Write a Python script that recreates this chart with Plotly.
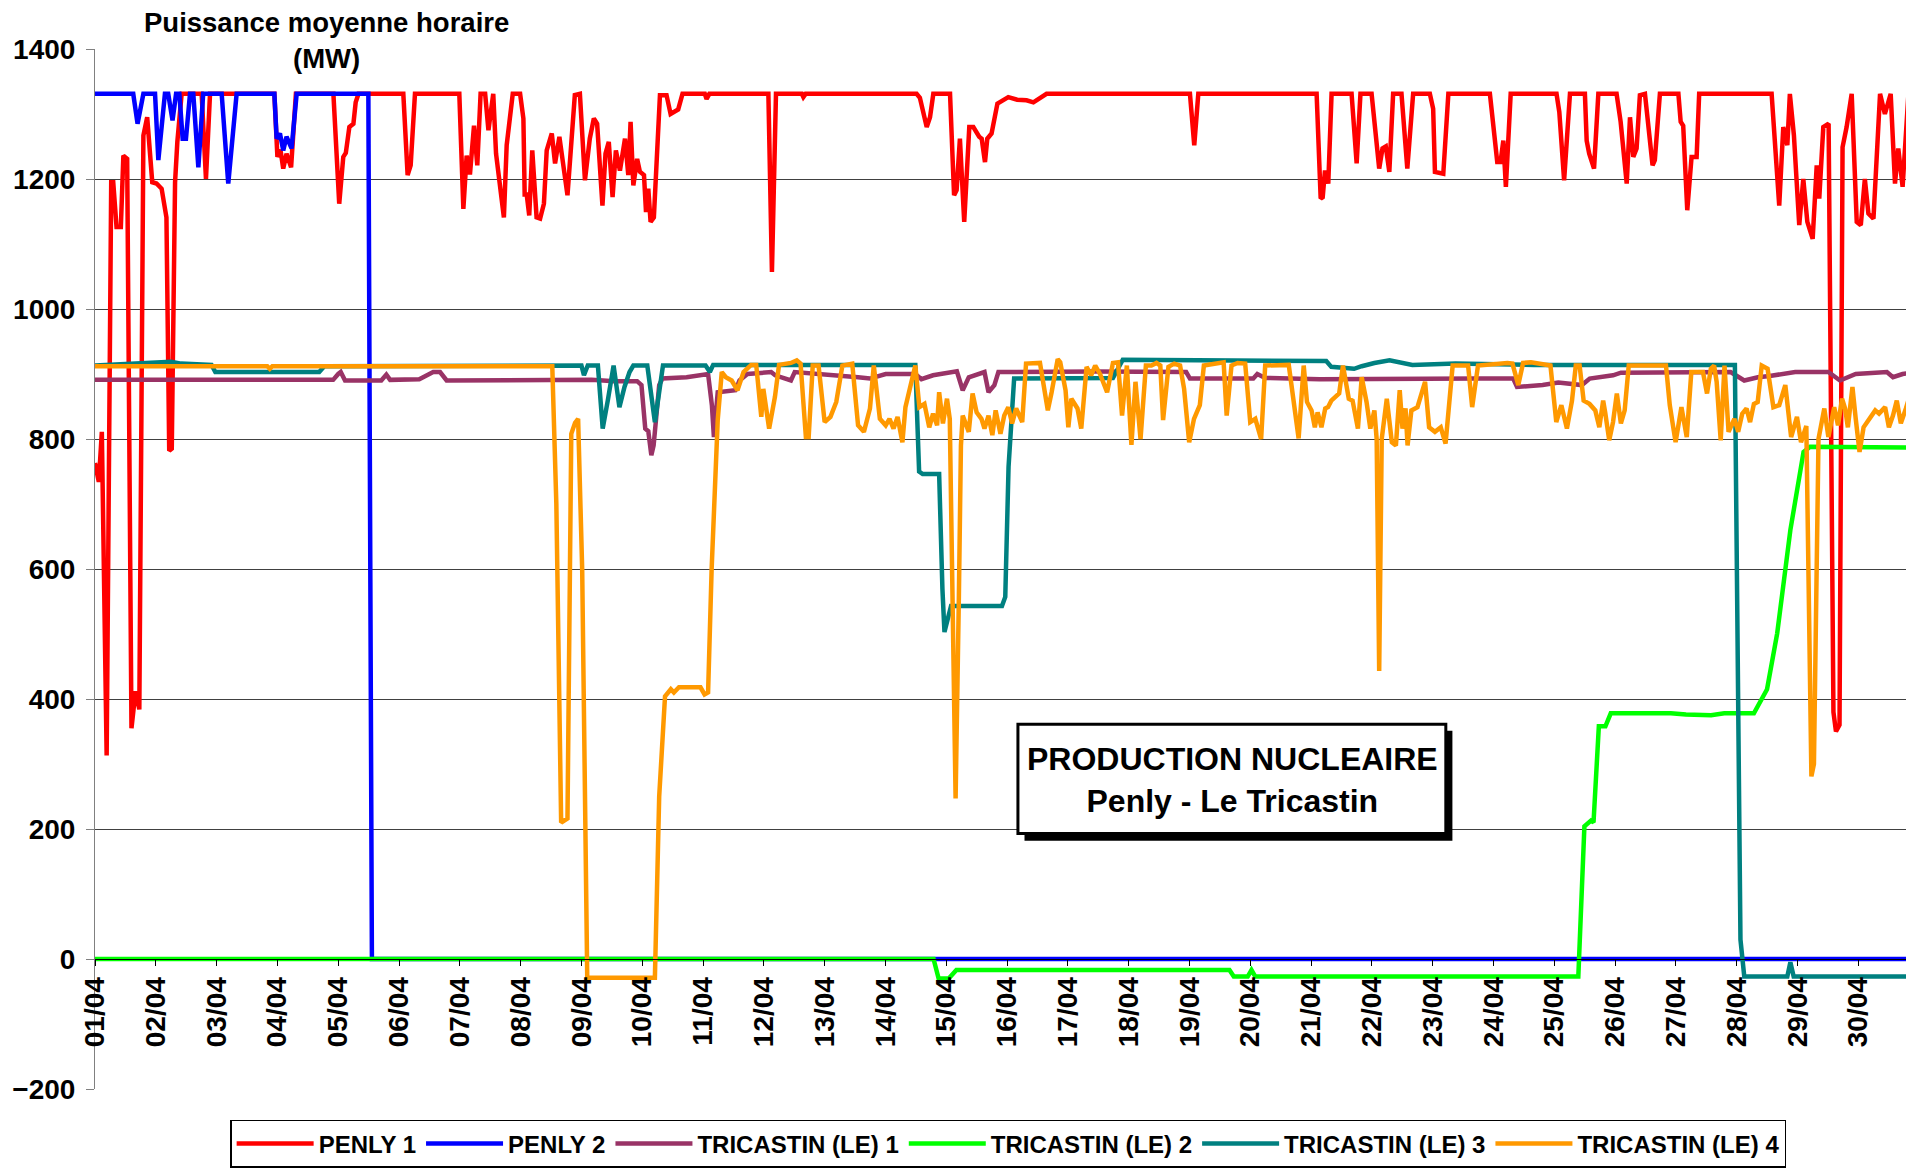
import plotly.graph_objects as go

FONT = 'Liberation Sans, Arial, sans-serif'

# Hourly average power, April. Breakpoints as (hour of month, MW).
PENLY_1 = [
    (0, 763), (1.5, 734), (2.7, 811), (4.6, 313), (6.4, 1195), (7.2, 1195), (8.5, 1126), (10.2, 1126),
    (11.2, 1236), (12.7, 1231), (14.4, 355), (16, 412), (17.5, 384), (19.1, 1267), (20.6, 1295),
    (22.6, 1195), (24.3, 1193), (26.3, 1185), (28.2, 1141), (29.3, 782), (30.3, 785), (31.6, 1195),
    (32.5, 1257), (34.2, 1331), (42.1, 1331), (43.8, 1200), (45.4, 1331), (70.8, 1331), (72, 1234),
    (73.2, 1245), (74.3, 1216), (75.6, 1239), (77.4, 1218), (79.3, 1331), (94.1, 1331), (96.4, 1162),
    (98, 1234), (99, 1240), (100.4, 1280), (102, 1285), (102.9, 1318), (104, 1331), (121.7, 1331),
    (123.4, 1206), (124.6, 1221), (126.3, 1331), (143.8, 1331), (145.4, 1154), (146.7, 1236),
    (148, 1207), (149.6, 1282), (150.9, 1221), (152.2, 1331), (154, 1331), (155.3, 1275),
    (157.2, 1331), (158.3, 1239), (161.4, 1141), (162.5, 1252), (164.9, 1331), (167.8, 1331),
    (169.1, 1293), (169.6, 1176), (170.4, 1176), (171.4, 1144), (172.6, 1244), (174.3, 1141),
    (175.7, 1139), (177.2, 1162), (178.3, 1244), (180.3, 1270), (181.6, 1224), (183.3, 1265),
    (184.9, 1216), (186.5, 1175), (189.4, 1329), (191.4, 1331), (193.4, 1198), (195.3, 1262),
    (196.9, 1293), (198.2, 1285), (200.3, 1159), (201.5, 1239), (202.8, 1257), (204.3, 1172),
    (205.6, 1244), (207.2, 1213), (209.2, 1262), (210.5, 1206), (211.4, 1288), (212.5, 1190),
    (214, 1231), (215.1, 1211), (216.7, 1206), (217.5, 1149), (218.4, 1185), (219.3, 1134),
    (220.6, 1141), (223, 1329), (225.6, 1329), (227.2, 1300), (230.2, 1307), (231.9, 1331),
    (240.7, 1331), (241.4, 1323), (242.5, 1331), (265.8, 1331), (267.2, 1057), (268.8, 1331),
    (279, 1331), (279.6, 1326), (280.5, 1331), (324.3, 1331), (325.6, 1325), (328.3, 1280),
    (329.6, 1295), (330.9, 1331), (337.5, 1331), (339.1, 1175), (340.1, 1183), (341.4, 1262),
    (343.1, 1134), (345.1, 1280), (346.7, 1280), (349, 1265), (350, 1262), (351.3, 1226),
    (352.2, 1262), (353.9, 1270), (356.2, 1316), (358.5, 1321), (360.5, 1326), (364, 1322),
    (367.7, 1321), (370.4, 1318), (373, 1324), (375.6, 1331), (432.2, 1331), (433.9, 1252),
    (435.5, 1331), (482.2, 1331), (483.8, 1170), (484.6, 1172), (485.5, 1213), (486.8, 1193),
    (488.1, 1331), (496, 1331), (498, 1224), (499.5, 1331), (503.9, 1331), (506.9, 1216),
    (508.2, 1247), (509.5, 1250), (510.9, 1211), (512.4, 1331), (515.7, 1331), (518, 1216),
    (520.3, 1331), (526.9, 1331), (528.2, 1308), (528.9, 1211), (532.2, 1208), (534.2, 1331),
    (550.6, 1331), (553.5, 1226), (554.8, 1226), (555.9, 1259), (556.9, 1188), (558.8, 1331),
    (576.9, 1331), (578, 1303), (579.9, 1198), (582.2, 1331), (588.1, 1331), (588.8, 1259),
    (589.8, 1239), (591.7, 1216), (593.4, 1331), (600.6, 1331), (602.2, 1288), (604.6, 1193),
    (605.9, 1295), (607.2, 1234), (608.5, 1247), (609.8, 1329), (611.8, 1331), (614.8, 1221),
    (615.7, 1229), (617.7, 1331), (625, 1331), (625.9, 1288), (626.9, 1282), (628.5, 1152),
    (630.2, 1234), (632.2, 1234), (633.2, 1331), (661.8, 1331), (664.8, 1159), (666.4, 1280),
    (668, 1252), (669, 1331), (670.6, 1267), (672.7, 1129), (674.3, 1200), (675.9, 1134),
    (678, 1108), (679.6, 1221), (680.6, 1170), (682.2, 1280), (684.3, 1285), (686.2, 380),
    (687.2, 350), (688.6, 360), (689.8, 1249), (691.4, 1280), (693.4, 1331), (695.4, 1134),
    (697, 1129), (698.6, 1200), (700, 1147), (702, 1139), (704.6, 1331), (706.5, 1300),
    (708.8, 1331), (710.5, 1193), (711.8, 1247), (713.5, 1188), (715.8, 1331), (717.7, 1211),
    (718.5, 1250),
]

PENLY_2 = [
    (0, 1331), (15.1, 1331), (16.8, 1285), (19.1, 1331), (23.7, 1331), (25, 1229), (27.6, 1331),
    (28.9, 1331), (30.6, 1290), (32, 1331), (33.3, 1331), (34.6, 1262), (35.9, 1262), (37.5, 1331),
    (38.8, 1331), (40.8, 1218), (42.7, 1331), (50, 1331), (52.6, 1193), (55.9, 1331), (70.8, 1331),
    (71.7, 1262), (73, 1270), (74.3, 1244), (75.6, 1265), (77.6, 1247), (79.6, 1331), (107.9, 1331),
    (109.3, 0), (718.5, 0),
]

TRICASTIN_1 = [
    (0, 891), (94, 891), (96, 900), (97, 903), (98.7, 890), (113, 890), (115, 899), (116.5, 891),
    (128, 892), (133.5, 903), (136.2, 903), (138.8, 890), (196, 891), (205, 889), (214, 889),
    (215.7, 883), (217.2, 816), (218.4, 812), (219.6, 775), (220.5, 790), (222.7, 883), (224, 893),
    (233.5, 895), (238.8, 898), (242, 900), (243.5, 852), (244.3, 803), (245.8, 872), (252.8, 875),
    (254.4, 890), (257.5, 900), (266.9, 903), (268.5, 898), (274.7, 890), (276.2, 903), (301.2, 895),
    (305.9, 893), (312.1, 900), (323.8, 900), (326.2, 892), (330.8, 898), (340.2, 904), (342.5, 875),
    (344.9, 895), (351.1, 903), (352.7, 872), (355, 883), (356.6, 903), (394.8, 904), (430.7, 903),
    (432.2, 893), (457.2, 893), (458.8, 900), (461.9, 894), (483.4, 892), (546, 893), (559.8, 893),
    (561.3, 880), (571.4, 883), (577.6, 887), (586.9, 883), (590, 893), (599.2, 898), (602.3, 902),
    (645.6, 903), (651, 890), (656.4, 895), (661, 897), (671.1, 903), (684.2, 903), (688.8, 890),
    (695, 900), (707.3, 903), (709.7, 895), (713.5, 900), (718.5, 903),
]

TRICASTIN_2 = [
    (0, 0), (331, 0), (333, -30), (337, -30), (340, -17), (447.8, -17), (449.5, -27), (455, -27),
    (456.5, -17), (458, -27), (585.5, -27), (587.9, 204), (590.5, 213), (591.5, 210), (593.6, 358),
    (596.2, 358), (598.3, 378), (622, 378), (628, 376), (637.9, 375), (643.1, 378), (654.8, 378),
    (660, 415), (664, 501), (669.2, 660), (674.4, 780), (677, 788), (700, 787), (718.5, 787),
]

TRICASTIN_3 = [
    (0, 913), (5, 914), (18, 915), (25, 918), (30, 919), (34, 916), (46, 914), (47.5, 903),
    (88.5, 903), (90.5, 912), (182, 913), (192, 913), (193, 898), (194.5, 913), (198.5, 913),
    (200.4, 816), (202.4, 859), (204.7, 913), (207, 849), (209, 880), (211, 903), (212.5, 913),
    (218, 913), (221, 826), (224.2, 913), (241, 913), (242.7, 903), (244, 914), (323.8, 914),
    (325.3, 750), (326.7, 746), (333.2, 746), (334.5, 569), (335.3, 503), (337.9, 543), (358, 543),
    (359.3, 557), (360.6, 757), (362.8, 893), (401.8, 894), (405.7, 922), (470, 921), (486, 920),
    (488, 911), (497, 908), (500, 912), (505, 917), (511, 921), (520, 914), (537, 916), (568, 914),
    (647.3, 914), (648.6, 300), (649.5, 30), (651, -27), (668, -27), (669.2, -5), (670.5, -27),
    (718.5, -27),
]

TRICASTIN_4 = [
    (0, 912), (68, 912), (69, 908), (70, 912), (180.5, 912), (182.1, 700), (184, 210), (186.5, 216),
    (188, 808), (189.5, 825), (190.7, 831), (192.3, 600), (194.3, -29), (221, -29), (222.7, 250),
    (225, 404), (227.3, 415), (228.5, 410), (230.5, 418), (239, 418), (240.6, 407), (242, 410),
    (243.4, 600), (245.8, 829), (247.4, 903), (249, 895), (251.3, 890), (253.6, 875), (256, 903),
    (259, 914), (261, 914), (263, 834), (263.8, 877), (266.1, 816), (268.4, 865), (270, 914),
    (274.7, 917), (277, 921), (278.5, 916), (280.6, 803), (281.7, 803), (283.3, 913), (285.6, 913),
    (288, 826), (290.3, 834), (292.6, 857), (295, 913), (298.9, 916), (301.2, 821), (303.5, 811),
    (305.9, 847), (307.4, 913), (309.8, 831), (312.1, 821), (313.6, 831), (315.2, 816), (316.8, 834),
    (318.7, 795), (319.9, 849), (323.8, 913), (325.4, 849), (327.4, 854), (329.3, 818), (330.8, 839),
    (332.4, 821), (333.2, 872), (334.7, 824), (336.3, 862), (337.4, 831), (338.6, 560), (339.7, 247),
    (341, 560), (341.8, 790), (342.5, 836), (344.9, 811), (346.4, 870), (348, 841), (349.9, 831),
    (351.1, 816), (352.7, 836), (354.2, 806), (355.5, 844), (357.4, 808), (358.9, 836), (360.5, 849),
    (362, 824), (363.6, 847), (366, 826), (367.5, 916), (373, 917), (376.1, 844), (377.6, 872),
    (380, 923), (381, 918), (383.1, 875), (384.2, 818), (385.4, 862), (387.8, 847), (389.3, 816),
    (391.4, 911), (393.2, 898), (394.8, 913), (396.7, 900), (399.5, 872), (401.8, 917), (403.8, 918),
    (405.4, 836), (407.3, 913), (409.1, 791), (410.7, 888), (412.7, 800), (414.8, 913), (417, 913),
    (419, 917), (420.5, 913), (421.6, 829), (423.7, 911), (426, 916), (428.3, 913), (429.9, 877),
    (431.9, 795), (433.8, 831), (436.1, 852), (437.7, 913), (443.2, 916), (445.5, 918), (446.7, 836),
    (448.6, 913), (451, 917), (454, 916), (456, 826), (458, 831), (460.3, 800), (461.9, 913),
    (471.2, 914), (473.6, 836), (475.1, 801), (477.1, 913), (478.4, 857), (480.2, 844), (481.5, 818),
    (482.6, 841), (484.1, 818), (485.6, 847), (486.7, 849), (488, 859), (491.1, 870), (492.6, 913),
    (494.9, 862), (496.4, 859), (498.5, 816), (500, 895), (501.9, 857), (503.4, 816), (505, 844),
    (505.9, 800), (506.9, 443), (507.9, 800), (509.9, 862), (511.9, 795), (513.5, 790), (515, 875),
    (516.1, 816), (517.3, 847), (518.1, 790), (519.6, 844), (522, 849), (525, 888), (526.6, 818),
    (528.9, 811), (531.2, 818), (533.1, 793), (535.9, 913), (542, 913), (543.6, 849), (545.9, 913),
    (554.4, 916), (557.5, 917), (559.5, 916), (561.8, 883), (563.7, 917), (566.8, 918), (574.5, 913),
    (576.8, 826), (578.8, 852), (581, 816), (583, 859), (584.5, 913), (586, 913), (587.6, 859),
    (589.9, 854), (592.2, 844), (593.8, 818), (595.3, 859), (596.1, 841), (597.7, 798), (599.2, 826),
    (600.7, 870), (602.3, 824), (603.8, 844), (605.4, 913), (620.1, 913), (621.6, 852), (623.9, 795),
    (626.2, 849), (628.3, 803), (630.1, 903), (634.7, 903), (636.3, 870), (637.8, 908), (639.1, 913),
    (640.1, 888), (641.7, 798), (643.2, 913), (644.8, 811), (647.1, 831), (648.6, 811), (650.2, 839),
    (651.9, 847), (653.3, 826), (654.8, 854), (656.3, 857), (657.9, 913), (660.2, 908), (662.5, 849),
    (664.8, 852), (667.2, 883), (669.5, 803), (671.8, 834), (673.4, 795), (675.5, 820), (676.5, 560),
    (677.5, 281), (678.5, 300), (679.5, 560), (680.3, 800), (682.6, 847), (684.2, 803), (686.5, 849),
    (688, 821), (689.6, 862), (690.8, 847), (691.9, 818), (693.7, 880), (695, 831), (696.5, 780),
    (698.1, 818), (700.4, 831), (702.7, 844), (704.2, 839), (706.6, 849), (708.1, 818), (709.7, 836),
    (711.2, 859), (712.8, 824), (714.8, 847), (716.6, 870), (717.4, 834), (718.5, 860),
]

DAY_TICKS = [0, 24, 48, 72, 96, 120, 144, 168, 192, 216, 240, 264, 288, 312, 336,
             360, 384, 408, 432, 456, 480, 504, 528, 552, 576, 600, 624, 648, 672, 696]
DAY_LABELS = ['01/04', '02/04', '03/04', '04/04', '05/04', '06/04', '07/04', '08/04', '09/04', '10/04',
              '11/04', '12/04', '13/04', '14/04', '15/04', '16/04', '17/04', '18/04', '19/04', '20/04',
              '21/04', '22/04', '23/04', '24/04', '25/04', '26/04', '27/04', '28/04', '29/04', '30/04']
Y_TICKS = [-200, 0, 200, 400, 600, 800, 1000, 1200, 1400]

SERIES = [
    ('PENLY 1', PENLY_1, '#FF0000'),
    ('PENLY 2', PENLY_2, '#0000FF'),
    ('TRICASTIN (LE) 1', TRICASTIN_1, '#993366'),
    ('TRICASTIN (LE) 2', TRICASTIN_2, '#00FF00'),
    ('TRICASTIN (LE) 3', TRICASTIN_3, '#008080'),
    ('TRICASTIN (LE) 4', TRICASTIN_4, '#FF9900'),
]

fig = go.Figure()
for name, points, colour in SERIES:
    fig.add_trace(go.Scatter(
        x=[p[0] for p in points],
        y=[p[1] for p in points],
        mode='lines',
        name=name,
        line={'color': colour, 'width': 4.5},
    ))

# boxed caption with a drop shadow
fig.add_shape(type='rect', x0=366.9, x1=535.8, y0=182, y1=351,
              line={'width': 0}, fillcolor='black', layer='above')
fig.add_shape(type='rect', x0=364.3, x1=533.2, y0=193, y1=361,
              line={'color': 'black', 'width': 3}, fillcolor='white', layer='above')
fig.add_annotation(x=448.8, y=276, xref='x', yref='y', showarrow=False,
                   text='PRODUCTION NUCLEAIRE<br>Penly - Le Tricastin',
                   font={'family': FONT, 'size': 32, 'color': 'black', 'weight': 'bold'})

# axis title sitting on the top gridline
fig.add_annotation(x=0.127, y=1.0077, xref='paper', yref='paper', xanchor='center', yanchor='middle',
                   showarrow=False, text='Puissance moyenne horaire<br>(MW)', bgcolor='white', borderpad=4,
                   font={'family': FONT, 'size': 27.5, 'color': 'black', 'weight': 'bold'})

# the page body has an 8px margin, so the figure is 8px smaller than the window
fig.update_layout(
    width=1906,
    height=1163,
    margin={'l': 87, 'r': 0, 't': 41, 'b': 82, 'autoexpand': False},
    paper_bgcolor='white',
    plot_bgcolor='white',
    font={'family': FONT, 'size': 24, 'color': 'black', 'weight': 'bold'},
    legend={
        'orientation': 'h',
        'x': 0.502,
        'xanchor': 'center',
        'y': -0.0298,
        'yanchor': 'top',
        'bordercolor': 'black',
        'borderwidth': 1.5,
        'itemwidth': 77,
        'font': {'family': FONT, 'size': 24, 'color': 'black', 'weight': 'bold'},
    },
    xaxis={
        'range': [0, 718],
        'anchor': 'free',
        'position': 0.125,
        'tickvals': DAY_TICKS,
        'ticktext': DAY_LABELS,
        'tickangle': -90,
        'ticks': 'outside',
        'ticklen': 6,
        'tickcolor': 'black',
        'showline': True,
        'linecolor': 'black',
        'linewidth': 1,
        'showgrid': False,
        'zeroline': False,
        'tickfont': {'family': FONT, 'size': 28, 'color': 'black', 'weight': 'bold'},
    },
    yaxis={
        'range': [-200, 1400],
        'tickvals': Y_TICKS,
        'ticks': 'outside',
        'ticklen': 8,
        'tickcolor': '#808080',
        'ticklabelstandoff': 5,
        'showline': True,
        'linecolor': '#808080',
        'linewidth': 1,
        'gridcolor': '#404040',
        'gridwidth': 1,
        'zeroline': False,
        'tickfont': {'family': FONT, 'size': 28, 'color': 'black', 'weight': 'bold'},
    },
)

fig.write_html('out.html')
